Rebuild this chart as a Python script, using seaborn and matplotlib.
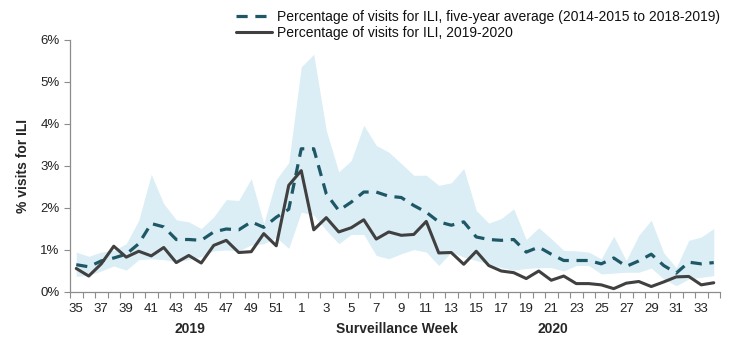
import numpy as np
import pandas as pd
import matplotlib
matplotlib.use("Agg")
import matplotlib.pyplot as plt
import seaborn as sns
from matplotlib.lines import Line2D
from matplotlib.ticker import FixedLocator, FuncFormatter

# Surveillance weeks: 35-52 of 2019, then 1-34 of 2020
weeks = list(range(35, 53)) + list(range(1, 35))

# Percentage of visits for ILI, 2019-2020 season
ili_2019_2020 = [0.56, 0.38, 0.67, 1.09, 0.83, 0.97, 0.86, 1.06, 0.70, 0.87,
                 0.69, 1.11, 1.23, 0.94, 0.96, 1.39, 1.10, 2.54, 2.89, 1.48,
                 1.77, 1.43, 1.53, 1.72, 1.26, 1.43, 1.35, 1.37, 1.68, 0.93,
                 0.94, 0.66, 0.97, 0.63, 0.50, 0.46, 0.32, 0.50, 0.28, 0.38,
                 0.20, 0.20, 0.17, 0.08, 0.21, 0.25, 0.13, 0.24, 0.36, 0.37,
                 0.17, 0.22]

# Five-year average (2014-2015 to 2018-2019)
ili_5yr_avg = [0.65, 0.60, 0.74, 0.81, 0.90, 1.15, 1.63, 1.55, 1.25, 1.25,
               1.23, 1.43, 1.50, 1.48, 1.67, 1.54, 1.78, 1.97, 3.41, 3.41,
               2.34, 1.94, 2.14, 2.38, 2.38, 2.28, 2.25, 2.06, 1.90, 1.67,
               1.59, 1.67, 1.31, 1.25, 1.23, 1.25, 0.95, 1.07, 0.90, 0.75,
               0.75, 0.75, 0.67, 0.81, 0.61, 0.74, 0.90, 0.63, 0.45, 0.71,
               0.67, 0.70]

# Range of the five prior seasons (min / max)
ili_5yr_min = [0.37, 0.40, 0.50, 0.62, 0.52, 0.77, 0.79, 0.77, 0.72, 0.77,
               0.84, 0.98, 1.00, 0.98, 1.12, 1.15, 1.30, 1.04, 1.90, 1.83,
               1.47, 1.15, 1.37, 1.37, 0.87, 0.79, 0.91, 1.01, 0.95, 0.63,
               0.95, 0.83, 0.75, 0.67, 0.58, 0.52, 0.56, 0.58, 0.58, 0.50,
               0.63, 0.63, 0.43, 0.45, 0.47, 0.47, 0.57, 0.31, 0.15, 0.31,
               0.35, 0.39]
ili_5yr_max = [0.95, 0.85, 0.95, 0.99, 1.15, 1.71, 2.80, 2.10, 1.72, 1.67,
               1.51, 1.79, 2.20, 2.18, 2.70, 1.63, 2.68, 3.08, 5.36, 5.66,
               3.85, 2.86, 3.13, 3.97, 3.49, 3.33, 3.06, 2.78, 2.78, 2.54,
               2.60, 2.94, 1.94, 1.64, 1.75, 1.98, 1.25, 1.53, 1.27, 0.99,
               0.98, 0.95, 0.79, 1.33, 0.75, 1.35, 1.71, 0.93, 0.58, 1.23,
               1.31, 1.51]

avg_label = "Percentage of visits for ILI, five-year average (2014-2015 to 2018-2019)"
cur_label = "Percentage of visits for ILI, 2019-2020"

sns.set_theme(style="white")
plt.rcParams["font.family"] = ["Liberation Sans", "DejaVu Sans"]

pos = np.arange(len(weeks))
df = pd.DataFrame({
    "pos": np.concatenate([pos, pos]),
    "pct": ili_5yr_avg + ili_2019_2020,
    "series": [avg_label] * len(weeks) + [cur_label] * len(weeks),
})

fig = plt.figure(figsize=(7.39, 3.42), dpi=100)
ax = fig.add_axes([70 / 739, 50 / 342, 650 / 739, 252 / 342])

band_color = "#dbeef5"
avg_color = "#1e5866"
cur_color = "#404040"

ax.fill_between(pos, ili_5yr_min, ili_5yr_max, color=band_color, lw=0, zorder=1)

sns.lineplot(data=df, x="pos", y="pct", hue="series", style="series",
             palette={avg_label: avg_color, cur_label: cur_color},
             dashes={avg_label: (3.5, 2.4), cur_label: ""},
             size="series", sizes={avg_label: 2.3, cur_label: 2.2},
             ax=ax, legend=False, zorder=3)

# Legend above the plot area
handles = [Line2D([], [], color=avg_color, lw=2.3, dashes=(3.5, 2.4)),
           Line2D([], [], color=cur_color, lw=2.2)]
leg = fig.legend(handles, [avg_label, cur_label], loc="upper left",
                 bbox_to_anchor=(236 / 739, 1 - 10 / 342), frameon=False,
                 fontsize=10, handlelength=2.6, handletextpad=0.35,
                 labelspacing=0.15, borderaxespad=0.0, borderpad=0.0)
for t in leg.get_texts():
    t.set_color("#111111")

ax.set_xlim(-0.5, len(weeks) - 0.5)
ax.set_ylim(0, 6)

# Tick marks at week boundaries, labels on every other week
ax.xaxis.set_major_locator(FixedLocator(np.arange(-0.5, len(weeks), 1.0)))
ax.xaxis.set_major_formatter(FuncFormatter(lambda v, p: ""))
ax.set_xticks(pos[::2], [str(w) for w in weeks[::2]], minor=True)
ax.tick_params(axis="x", which="major", direction="out", length=4.5,
               width=0.8, color="#8c8c8c", bottom=True)
ax.tick_params(axis="x", which="minor", length=0, pad=8, labelsize=9.5,
               labelcolor="#222222")

ax.set_yticks(range(0, 7))
ax.yaxis.set_major_formatter(FuncFormatter(lambda v, p: f"{int(v)}%"))
ax.tick_params(axis="y", direction="out", length=4.5, width=0.8,
               color="#8c8c8c", left=True, labelsize=9.5, labelcolor="#222222",
               pad=3)

for side in ["top", "right"]:
    ax.spines[side].set_visible(False)
for side in ["left", "bottom"]:
    ax.spines[side].set_color("#8c8c8c")
    ax.spines[side].set_linewidth(0.9)

ax.set_xlabel("")
ax.set_ylabel("% visits for ILI", fontsize=10, fontweight="bold")
ax.yaxis.set_label_coords(-0.062, 0.5)

fig.text(190 / 739, 1 - 329 / 342, "2019", ha="center", va="center",
         fontsize=10, fontweight="bold")
fig.text(397 / 739, 1 - 329 / 342, "Surveillance Week", ha="center",
         va="center", fontsize=10, fontweight="bold")
fig.text(553 / 739, 1 - 329 / 342, "2020", ha="center", va="center",
         fontsize=10, fontweight="bold")

fig.savefig("out.png", dpi=100)
